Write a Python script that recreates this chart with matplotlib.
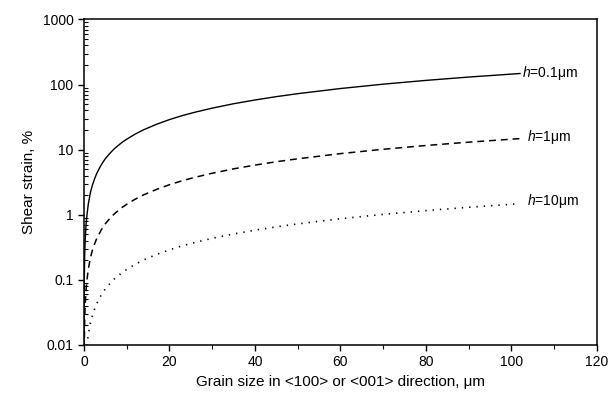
import numpy as np
import matplotlib
matplotlib.use("Agg")
import matplotlib.pyplot as plt
from matplotlib.ticker import LogLocator, FixedLocator, MultipleLocator, NullFormatter

plt.rcParams['font.family'] = ['Liberation Sans', 'DejaVu Sans']
plt.rcParams['mathtext.fontset'] = 'custom'
plt.rcParams['mathtext.it'] = 'Liberation Sans:italic'
plt.rcParams['mathtext.rm'] = 'Liberation Sans'

# grain size (um) and shear strain (%)
grain = [0.0069, 0.01, 0.015, 0.02, 0.03, 0.05, 0.07, 0.1, 0.15, 0.2, 0.3, 0.5,
         0.7, 1, 1.5, 2, 2.5, 3, 4, 5, 6, 7, 8, 9, 10, 12, 14, 17, 20, 23, 26, 30,
         35, 40, 45, 50, 60, 70, 80, 90, 102]
strain_h01 = [0.01, 0.0145, 0.022, 0.029, 0.0435, 0.073, 0.1, 0.145, 0.22, 0.29, 0.435,
              0.73, 1.0, 1.45, 2.2, 2.9, 3.6, 4.35, 5.8, 7.3, 8.7, 10.2, 11.6, 13.1, 14.5,
              17.4, 20.3, 24.6, 29, 33.4, 37.7, 43.5, 50.8, 58, 65.3, 72.5, 87, 101.5,
              116, 130.5, 148]
strain_h1 = [0.001, 0.00145, 0.0022, 0.0029, 0.00435, 0.0073, 0.01, 0.0145, 0.022, 0.029,
             0.0435, 0.073, 0.1, 0.145, 0.22, 0.29, 0.36, 0.435, 0.58, 0.73, 0.87, 1.02,
             1.16, 1.31, 1.45, 1.74, 2.03, 2.46, 2.9, 3.34, 3.77, 4.35, 5.08, 5.8, 6.53,
             7.25, 8.7, 10.15, 11.6, 13.05, 14.8]
strain_h10 = [0.0001, 0.000145, 0.00022, 0.00029, 0.000435, 0.00073, 0.001, 0.00145, 0.0022,
              0.0029, 0.00435, 0.0073, 0.01, 0.0145, 0.022, 0.029, 0.036, 0.0435, 0.058,
              0.073, 0.087, 0.102, 0.116, 0.131, 0.145, 0.174, 0.203, 0.246, 0.29, 0.334,
              0.377, 0.435, 0.508, 0.58, 0.653, 0.725, 0.87, 1.015, 1.16, 1.305, 1.48]
labels = [r'$h$=0.1μm', r'$h$=1μm', r'$h$=10μm']
ytick_vals = [0.01, 0.1, 1, 10, 100, 1000]
ytick_labels = ['0.01', '0.1', '1', '10', '100', '1000']

fig = plt.figure(figsize=(6.14, 3.96), dpi=100)
ax = fig.add_axes([0.1368, 0.1288, 0.8355, 0.822])

ax.plot(grain, strain_h01, color='black', lw=1.0, ls='-')
ax.plot(grain, strain_h1, color='black', lw=1.1, ls=(0, (4.5, 3.2)))
ax.plot(grain, strain_h10, color='black', lw=1.2, ls=(0, (0.8, 3.6)))

ax.set_yscale('log')
ax.set_xlim(0, 120)
ax.set_ylim(0.01, 1000)

ax.text(102.5, strain_h01[-1] * 1.02, labels[0], fontsize=10, va='center', ha='left')
ax.text(103.6, strain_h1[-1] * 1.06, labels[1], fontsize=10, va='center', ha='left')
ax.text(103.6, strain_h10[-1] * 1.1, labels[2], fontsize=10, va='center', ha='left')

ax.yaxis.set_major_locator(FixedLocator(ytick_vals))
ax.set_yticklabels(ytick_labels)
ax.yaxis.set_minor_locator(LogLocator(base=10, subs=np.arange(2, 10), numticks=20))
ax.yaxis.set_minor_formatter(NullFormatter())
ax.xaxis.set_major_locator(MultipleLocator(20))
ax.xaxis.set_minor_locator(MultipleLocator(10))

ax.tick_params(axis='y', which='major', direction='out', length=4, width=1, labelsize=10)
ax.tick_params(axis='y', which='minor', direction='in', length=3, width=0.8)
ax.tick_params(axis='x', which='major', direction='out', length=4, width=1, labelsize=10)
ax.tick_params(axis='x', which='minor', direction='out', length=3, width=0.8)

for s in ax.spines.values():
    s.set_linewidth(1.1)

ax.set_xlabel('Grain size in <100> or <001> direction, μm', fontsize=11, labelpad=4)
ax.set_ylabel('Shear strain, %', fontsize=11, labelpad=5)

fig.savefig('out.png', dpi=100)
